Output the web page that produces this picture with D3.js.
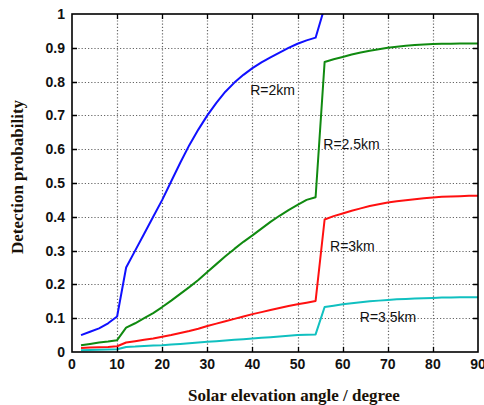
<!DOCTYPE html>
<html lang="en">
<head>
    <meta charset="UTF-8">
    <title>Detection probability</title>
    <style>
        body { margin: 0; padding: 0; background: #fff; }
        .grid { fill: none; stroke: #666; stroke-width: 1.2; stroke-dasharray: 1.2,2; }
        .ticks { fill: none; stroke: #000; stroke-width: 1.3; }
        .tick-label { font-family: "Liberation Sans", Arial, sans-serif; font-size: 14px; font-weight: bold; fill: #111; }
        .axis-title { font-family: "Liberation Serif", "Times New Roman", serif; font-size: 17px; font-weight: bold; fill: #1a1208; }
        .curve { fill: none; stroke-width: 2; stroke-linejoin: round; }
        .curve-label { font-family: "Liberation Sans", Arial, sans-serif; font-size: 14px; fill: #111; }
    </style>
</head>
<body>
<div id="chart"></div>
<script src="https://d3js.org/d3.v7.min.js"></script>
<script>
    // solar elevation angle (degree)
    const angles = [2, 4, 6, 8, 10, 12, 14, 16, 18, 20, 22, 24, 26, 28, 30, 32, 34, 36, 38, 40,
                    42, 44, 46, 48, 50, 52, 54, 56, 58, 60, 62, 64, 66, 68, 70, 72, 74, 76, 78,
                    80, 82, 84, 86, 88, 90];

    // R=2km leaves the top of the plot just after 54 degrees
    const r2 = [0.05, 0.06, 0.07, 0.085, 0.105, 0.25, 0.30, 0.35, 0.40, 0.45, 0.505, 0.56, 0.612,
                0.658, 0.70, 0.737, 0.77, 0.797, 0.82, 0.84, 0.857, 0.872, 0.886, 0.9, 0.912,
                0.922, 0.93, 1.02];
    const r25 = [0.02, 0.024, 0.028, 0.031, 0.035, 0.072, 0.085, 0.10, 0.115, 0.133, 0.152, 0.172,
                 0.192, 0.213, 0.237, 0.26, 0.283, 0.305, 0.326, 0.345, 0.365, 0.385, 0.403, 0.42,
                 0.435, 0.45, 0.458, 0.858, 0.866, 0.873, 0.88, 0.886, 0.891, 0.896, 0.9, 0.903,
                 0.906, 0.908, 0.91, 0.911, 0.912, 0.912, 0.913, 0.913, 0.913];
    const r3 = [0.012, 0.013, 0.014, 0.015, 0.017, 0.028, 0.032, 0.036, 0.04, 0.045, 0.05, 0.056,
                0.062, 0.069, 0.077, 0.084, 0.091, 0.098, 0.105, 0.112, 0.118, 0.124, 0.13, 0.136,
                0.141, 0.146, 0.151, 0.392, 0.402, 0.41, 0.418, 0.425, 0.432, 0.437, 0.442, 0.446,
                0.449, 0.452, 0.455, 0.457, 0.459, 0.46, 0.461, 0.462, 0.462];
    const r35 = [0.005, 0.006, 0.007, 0.0075, 0.008, 0.015, 0.016, 0.018, 0.019, 0.02, 0.022, 0.024,
                 0.026, 0.028, 0.03, 0.032, 0.034, 0.036, 0.038, 0.04, 0.042, 0.044, 0.046, 0.048,
                 0.05, 0.051, 0.052, 0.133, 0.137, 0.141, 0.144, 0.147, 0.15, 0.152, 0.154, 0.156,
                 0.157, 0.158, 0.159, 0.16, 0.161, 0.161, 0.162, 0.162, 0.162];

    const seriesNames = ["R=2km", "R=2.5km", "R=3km", "R=3.5km"];
    const xTicks = [0, 10, 20, 30, 40, 50, 60, 70, 80, 90];
    const yTicks = [0, 0.1, 0.2, 0.3, 0.4, 0.5, 0.6, 0.7, 0.8, 0.9, 1];

    const width = 484, height = 405;
    const margin = { top: 14, right: 6, bottom: 53, left: 72 };
    const w = width - margin.left - margin.right,
          h = height - margin.top - margin.bottom;

    const svg = d3.select("#chart").append("svg")
        .attr("width", width)
        .attr("height", height);

    const g = svg.append("g")
        .attr("transform", `translate(${margin.left},${margin.top})`);

    const x = d3.scaleLinear().domain([0, 90]).range([0, w]);
    const y = d3.scaleLinear().domain([0, 1]).range([h, 0]);

    const innerX = xTicks.slice(1, -1);
    const innerY = yTicks.slice(1, -1);
    const px = v => Math.round(x(v)) + 0.5;
    const py = v => Math.round(y(v)) + 0.5;

    // dotted grid
    g.selectAll(".gx").data(innerX).enter().append("path")
        .attr("class", "grid")
        .attr("d", d => `M${px(d)},0V${h}`);
    g.selectAll(".gy").data(innerY).enter().append("path")
        .attr("class", "grid")
        .attr("d", d => `M0,${py(d)}H${w}`);

    // curves
    const series = [
        { name: seriesNames[0], values: r2, color: "#1010ff" },
        { name: seriesNames[1], values: r25, color: "#108a10" },
        { name: seriesNames[2], values: r3, color: "#ff1010" },
        { name: seriesNames[3], values: r35, color: "#10c0c0" }
    ];

    g.append("clipPath").attr("id", "clip")
        .append("rect").attr("width", w).attr("height", h);

    const line = d3.line()
        .x((d, i) => x(angles[i]))
        .y(d => y(d));

    g.append("g").attr("clip-path", "url(#clip)")
        .selectAll(".curve").data(series).enter().append("path")
        .attr("class", "curve")
        .attr("stroke", d => d.color)
        .attr("d", d => line(d.values));

    // curve labels (placed in data coordinates)
    const labelPos = [[39.5, 0.76], [55.7, 0.60], [57.2, 0.30], [63.8, 0.09]];
    g.selectAll(".curve-label").data(series).enter().append("text")
        .attr("class", "curve-label")
        .attr("x", (d, i) => x(labelPos[i][0]))
        .attr("y", (d, i) => y(labelPos[i][1]))
        .text(d => d.name);

    // inward ticks on all four sides
    const tk = 5;
    g.selectAll(".tx").data(innerX).enter().append("path")
        .attr("class", "ticks")
        .attr("d", d => `M${px(d)},0v${tk}M${px(d)},${h}v${-tk}`);
    g.selectAll(".ty").data(innerY).enter().append("path")
        .attr("class", "ticks")
        .attr("d", d => `M0,${py(d)}h${tk}M${w},${py(d)}h${-tk}`);

    g.append("rect")
        .attr("width", w).attr("height", h)
        .attr("fill", "none").attr("stroke", "#000").attr("stroke-width", 1.6);

    // tick labels
    g.selectAll(".xl").data(xTicks).enter().append("text")
        .attr("class", "tick-label")
        .attr("x", d => x(d))
        .attr("y", h + 17)
        .attr("text-anchor", "middle")
        .text(d => d);

    g.selectAll(".yl").data(yTicks).enter().append("text")
        .attr("class", "tick-label")
        .attr("x", -7)
        .attr("y", d => y(d) + 5)
        .attr("text-anchor", "end")
        .text(d => d);

    // titles
    svg.append("text")
        .attr("class", "axis-title")
        .attr("x", 294)
        .attr("y", 401)
        .attr("text-anchor", "middle")
        .text("Solar elevation angle / degree");

    svg.append("text")
        .attr("class", "axis-title")
        .attr("transform", "translate(23,177) rotate(-90)")
        .attr("text-anchor", "middle")
        .text("Detection probability");
</script>
</body>
</html>
